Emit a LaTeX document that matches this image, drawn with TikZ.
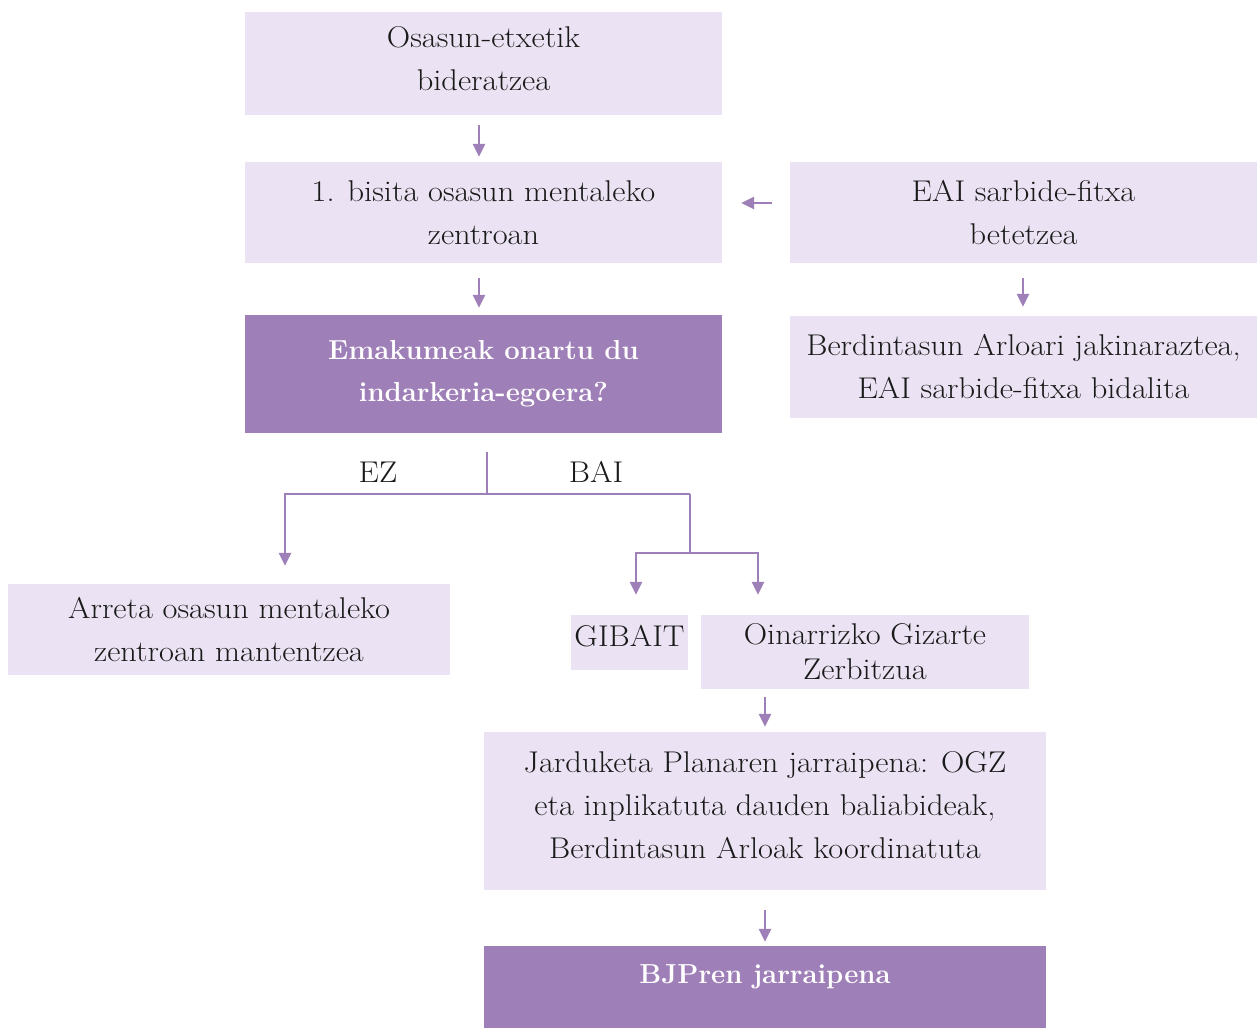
\documentclass[tikz,border=0pt]{standalone}
\usepackage{fontspec}
\newfontfamily\regfont{Latin Modern Roman}[FakeStretch=1.08]
\usetikzlibrary{arrows.meta}
\definecolor{lightp}{HTML}{EBE3F3}
\definecolor{darkp}{HTML}{9E7FB7}
\definecolor{ink}{HTML}{1A1A1A}
\begin{document}
\begin{tikzpicture}[x=1pt,y=-1pt,
  box/.style={fill=lightp, draw=none, inner sep=0pt, align=center, text=ink,
              font=\regfont\fontsize{30}{43}\selectfont},
  darkbox/.style={fill=darkp, draw=none, inner sep=0pt, align=center, text=white,
              font=\bfseries\fontsize{27.5}{42}\selectfont},
  txt/.style={inner sep=0pt, align=center, text=ink, font=\regfont\fontsize{30}{43}\selectfont},
  lbl/.style={inner sep=0pt, text=ink, font=\regfont\fontsize{30}{36}\selectfont},
  conn/.style={draw=darkp, line width=2.6pt},
  arr/.style={conn, -{Triangle[length=13pt,width=12pt]}}]
\useasboundingbox (0,0) rectangle (1257,1028);

\node[box, minimum width=477pt, minimum height=103pt] (b1) at (483.5,63.5) {};
\node[txt] (t1) at (483.5,58.5) {Osasun-etxetik\\bideratzea};
\node[box, minimum width=477pt, minimum height=101pt] (b2) at (483.5,212.5) {1. bisita osasun mentaleko\\zentroan};
\node[darkbox, minimum width=477pt, minimum height=118pt] (b3) at (483.5,374) {Emakumeak onartu du\\indarkeria-egoera?};
\node[box, minimum width=467pt, minimum height=101pt] (b4) at (1023.5,212.5) {EAI sarbide-fitxa\\betetzea};
\node[box, minimum width=467pt, minimum height=102pt] (b5) at (1023.5,367) {Berdintasun Arloari jakinaraztea,\\EAI sarbide-fitxa bidalita};
\node[box, minimum width=442pt, minimum height=91pt] (b6) at (229,629.5) {Arreta osasun mentaleko\\zentroan mantentzea};
\node[box, minimum width=117pt, minimum height=55pt] (b7) at (629.5,642.5) {};
\node[lbl] (t7) at (629.5,636) {GIBAIT};
\node[box, minimum width=328pt, minimum height=74pt, font=\regfont\fontsize{30}{35}\selectfont] (b8) at (865,652) {Oinarrizko Gizarte\\Zerbitzua};
\node[box, minimum width=562pt, minimum height=158pt] (b9) at (765,811) {};
\node[txt] (t9) at (765,805) {Jarduketa Planaren jarraipena: OGZ\\eta inplikatuta dauden baliabideak,\\Berdintasun Arloak koordinatuta};
\node[darkbox, minimum width=562pt, minimum height=82pt] (b10) at (765,987) {};
\node[inner sep=0pt, text=white, font=\bfseries\fontsize{27.5}{33}\selectfont] (t10) at (765,977) {BJPren jarraipena};

\node[lbl] (ez) at (378,472) {EZ};
\node[lbl] (bai) at (596,472) {BAI};

% straight arrows
\draw[arr, shorten <=10pt, shorten >=5pt] (b1.south -| 479,0) -- (b2.north -| 479,0);
\draw[arr, shorten <=15pt, shorten >=7pt] (b2.south -| 479,0) -- (b3.north -| 479,0);
\draw[arr, shorten <=18pt, shorten >=19pt] (b4.west |- 0,203) -- (b2.east |- 0,203);
\draw[arr, shorten <=15pt, shorten >=9pt] (b4.south -| 1023,0) -- (b5.north -| 1023,0);
\draw[arr, shorten <=8pt, shorten >=5pt] (b8.south -| 765,0) -- (b9.north -| 765,0);
\draw[arr, shorten <=20pt, shorten >=4pt] (b9.south -| 765,0) -- (b10.north -| 765,0);

% branching
\coordinate (s0) at (487,452);
\coordinate (sj) at (487,494);
\coordinate (sl) at (285,494);
\coordinate (sr) at (690,494);
\coordinate (sr2) at (690,553);
\coordinate (g1) at (636,553);
\coordinate (g2) at (758,553);
\draw[conn] (s0) -- (sj);
\draw[arr, shorten >=18pt] (sr) -- (sl) -- (sl |- b6.north);
\draw[conn] (sr) -- (sr2);
\draw[arr, line join=miter, shorten >=20pt] (sr2) -- (g1) -- (g1 |- b7.north);
\draw[arr, line join=miter, shorten >=20pt] (sr2) -- (g2) -- (g2 |- b8.north);
\end{tikzpicture}
\end{document}
